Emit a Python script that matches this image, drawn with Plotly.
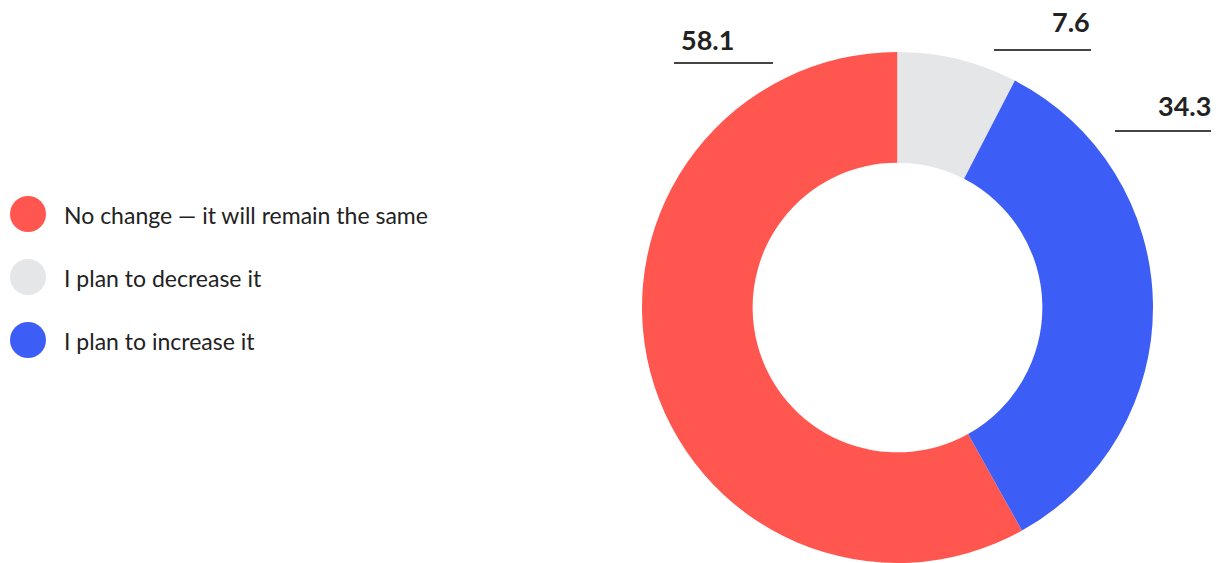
import plotly.graph_objects as go

labels = ["No change — it will remain the same", "I plan to decrease it", "I plan to increase it"]
values = [58.1, 7.6, 34.3]
colors = ["#FF574F", "#E5E6E8", "#3D5EF6"]
value_text = ["58.1", "7.6", "34.3"]

W, H = 1219, 563

def px(x):
    return x / W

def py(y):
    return 1 - y / H

# red slice starts where gray+blue end (clockwise from 12 o'clock)
rotation = 360 * (values[1] + values[2]) / sum(values)

fig = go.Figure()
fig.add_trace(go.Pie(
    labels=labels, values=values, sort=False, direction="clockwise",
    rotation=rotation, hole=0.567,
    marker=dict(colors=colors, line=dict(width=0)),
    textinfo="none", hoverinfo="label+value", showlegend=False,
    domain=dict(x=[px(642), px(1153)], y=[py(563), py(52)]),
))

# manual legend (circles + text)
leg_x, leg_y0, leg_dy, r = 28, 214, 63, 18
shapes = []
annotations = []
for i, (lab, col) in enumerate(zip(labels, colors)):
    cy = leg_y0 + i * leg_dy
    shapes.append(dict(type="circle", xref="paper", yref="paper",
                       x0=px(leg_x - r), x1=px(leg_x + r), y0=py(cy + r), y1=py(cy - r),
                       fillcolor=col, line=dict(width=0)))
    annotations.append(dict(text=lab, xref="paper", yref="paper", x=px(62), y=py(cy + 1),
                            xanchor="left", yanchor="middle", showarrow=False,
                            font=dict(family="Lato", size=23, color="#222222")))

# value labels with underline: (line x0, line x1, line y, text x, text anchor, text baseline gap)
label_pos = [
    (674, 773, 63, 679, "left", 5),
    (994, 1091, 50, 1092, "right", 10),
    (1115, 1211, 131, 1213, "right", 7),
]
for (x0, x1, ly, tx, anc, gap), t in zip(label_pos, value_text):
    shapes.append(dict(type="line", xref="paper", yref="paper",
                       x0=px(x0), x1=px(x1), y0=py(ly), y1=py(ly),
                       line=dict(color="#444444", width=2)))
    annotations.append(dict(text="<b>" + t + "</b>", xref="paper", yref="paper",
                            x=px(tx), y=py(ly - gap), xanchor=anc, yanchor="bottom",
                            showarrow=False,
                            font=dict(family="Lato", size=27, color="#222222")))

fig.update_layout(width=W, height=H, margin=dict(l=0, r=0, t=0, b=0),
                  paper_bgcolor="white", plot_bgcolor="white",
                  shapes=shapes, annotations=annotations)

fig.write_html("out.html", config={"displayModeBar": False},
               post_script="document.body.style.margin='0';")
